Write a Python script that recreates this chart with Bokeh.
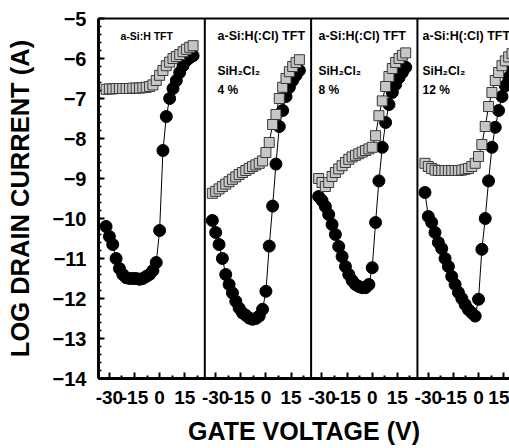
from bokeh.plotting import figure
from bokeh.models import FixedTicker, SingleIntervalTicker, Span, LinearAxis, Range1d, Label
from bokeh.embed import file_html
from bokeh.resources import INLINE

# ---------------- data ----------------
gate_v = [-32, -30, -28, -26, -24, -22, -20, -18, -16, -14, -12, -10, -8, -6,
          -4, -2, 0, 2, 4, 6, 8, 10, 12, 14, 16, 18, 20]

# circles (filled) per panel
p1_circle = [-10.2, -10.45, -10.65, -11.0, -11.25, -11.4, -11.48, -11.5, -11.5, -11.5,
             -11.52, -11.5, -11.45, -11.4, -11.3, -11.1, -10.3, -8.3, -7.45, -7.0,
             -6.75, -6.55, -6.35, -6.18, -6.05, -5.98, -5.93]
p2_circle = [-10.05, -10.35, -10.65, -11.0, -11.4, -11.65, -11.86, -12.07, -12.24, -12.36,
             -12.42, -12.49, -12.52, -12.5, -12.44, -12.27, -11.82, -10.69, -9.69, -8.64,
             -7.7, -7.3, -6.95, -6.72, -6.55, -6.42, -6.3]
p3_circle = [-9.45, -9.55, -9.7, -9.9, -10.15, -10.4, -10.7, -10.95, -11.2, -11.4,
             -11.55, -11.65, -11.7, -11.73, -11.73, -11.65, -11.23, -10.1, -9.06, -8.22,
             -7.6, -7.15, -6.85, -6.65, -6.48, -6.35, -6.22]
p4_circle = [-9.35, -9.95, -10.1, -10.35, -10.6, -10.75, -11.0, -11.2, -11.45, -11.65,
             -11.85, -12.0, -12.15, -12.28, -12.36, -12.44, -12.02, -10.77, -10.0, -9.06,
             -8.22, -7.72, -7.3, -6.95, -6.68, -6.47, -6.26]

# squares (gray) per panel
p1_square = [-6.77, -6.76, -6.76, -6.75, -6.75, -6.75, -6.75, -6.75, -6.74, -6.74,
             -6.74, -6.73, -6.72, -6.7, -6.66, -6.55, -6.42, -6.3, -6.18, -6.09,
             -6.0, -5.95, -5.9, -5.83, -5.77, -5.72, -5.68]
p2_square = [-9.37, -9.32, -9.26, -9.2, -9.14, -9.08, -9.02, -8.96, -8.9, -8.85,
             -8.8, -8.75, -8.7, -8.66, -8.62, -8.56, -8.35, -8.1, -7.65, -7.4,
             -7.0, -6.72, -6.5, -6.33, -6.2, -6.1, -6.03]
p3_square = [-9.0, -9.1, -9.2, -9.1, -8.95, -8.85, -8.76, -8.68, -8.6, -8.52,
             -8.46, -8.42, -8.38, -8.34, -8.3, -8.26, -8.22, -7.93, -7.43, -7.06,
             -6.7, -6.45, -6.25, -6.1, -6.0, -5.92, -5.86]
p4_square = [-8.62, -8.7, -8.75, -8.79, -8.8, -8.8, -8.8, -8.8, -8.8, -8.8,
             -8.8, -8.79, -8.77, -8.75, -8.7, -8.62, -8.45, -8.15, -7.7, -7.2,
             -6.85, -6.55, -6.35, -6.18, -6.06, -5.96, -5.88]

circles = [p1_circle, p2_circle, p3_circle, p4_circle]
squares = [p1_square, p2_square, p3_square, p4_square]

panel_titles = ["a-Si:H TFT", "a-Si:H(:Cl) TFT", "a-Si:H(:Cl) TFT", "a-Si:H(:Cl) TFT"]
panel_gas = ["", "SiH\u2082Cl\u2082", "SiH\u2082Cl\u2082", "SiH\u2082Cl\u2082"]
panel_conc = ["", "4 %", "8 %", "12 %"]

x_tick_values = [-30, -15, 0, 15]
x_tick_labels = ["-30", "-15", "0", "15"]
x_minor_values = [-22.5, -7.5, 7.5, 22.5]
x_title = "GATE VOLTAGE (V)"
y_title = "LOG DRAIN CURRENT (A)"

# ---------------- layout ----------------
LO = -36.5          # left edge of each panel (V)
SPAN = 63.5         # panel width (V)
VISIBLE = 245.5     # visible width of the 4-panel strip (V)
FONT = "Liberation Sans"

p = figure(width=509, height=448, output_backend="svg", toolbar_location=None,
           x_range=Range1d(LO, LO + VISIBLE), y_range=Range1d(-14, -5),
           min_border_left=98, min_border_right=0, min_border_top=18,
           min_border_bottom=70, background_fill_color="white",
           border_fill_color="white", outline_line_color=None)
p.grid.visible = False

# x axis
ticks, overrides, minors = [], {}, []
for k in range(4):
    off = k * SPAN
    for t, lab in zip(x_tick_values, x_tick_labels):
        ticks.append(t + off)
        overrides[t + off] = lab
    for m in x_minor_values:
        minors.append(m + off)
xa = p.xaxis[0]
xa.ticker = FixedTicker(ticks=ticks, minor_ticks=minors)
xa.major_label_overrides = overrides
xa.axis_label = x_title
xa.axis_line_width = 3
xa.major_tick_in = 6
xa.major_tick_out = 0
xa.minor_tick_in = 3
xa.minor_tick_out = 0
xa.major_tick_line_width = 2
xa.minor_tick_line_width = 2
xa.major_label_standoff = 12
xa.axis_label_standoff = 10
xa.major_label_text_font = FONT
xa.major_label_text_font_style = "bold"
xa.major_label_text_font_size = "19px"
xa.major_label_text_color = "black"
xa.axis_label_text_font = FONT
xa.axis_label_text_font_style = "bold"
xa.axis_label_text_font_size = "25px"
xa.axis_label_text_color = "black"

# y axis
ya = p.yaxis[0]
ya.ticker = SingleIntervalTicker(interval=1, num_minor_ticks=5)
ya.axis_label = y_title
ya.axis_line_width = 3
ya.major_tick_in = 6
ya.major_tick_out = 0
ya.minor_tick_in = 3
ya.minor_tick_out = 0
ya.major_tick_line_width = 2
ya.minor_tick_line_width = 1.5
ya.major_label_standoff = 12
ya.axis_label_standoff = 16
ya.major_label_text_font = FONT
ya.major_label_text_font_style = "bold"
ya.major_label_text_font_size = "20px"
ya.major_label_text_color = "black"
ya.axis_label_text_font = FONT
ya.axis_label_text_font_style = "bold"
ya.axis_label_text_font_size = "25.5px"
ya.axis_label_text_color = "black"

# top border line
top = LinearAxis(ticker=FixedTicker(ticks=[]), axis_line_width=2,
                 major_tick_in=0, major_tick_out=0, minor_tick_in=0, minor_tick_out=0)
p.add_layout(top, "above")

# panel separators
for k in range(1, 4):
    p.add_layout(Span(location=LO + k * SPAN, dimension="height",
                      line_color="black", line_width=2))

# data
for k in range(4):
    xs = [v + k * SPAN for v in gate_v]
    p.line(xs, circles[k], line_color="black", line_width=1)
    p.scatter(xs, circles[k], marker="circle", size=12,
              fill_color="black", line_color="black", line_width=1)
for k in range(4):
    xs = [v + k * SPAN for v in gate_v]
    p.line(xs, squares[k], line_color="black", line_width=1)
    p.scatter(xs, squares[k], marker="square", size=10,
              fill_color="#c6c6c6", line_color="#3a3a3a", line_width=1)

# panel annotations
title_x = [-23.4, -28.9, -32.1, -33.4]
title_size = ["10.5px", "12.5px", "12.5px", "12.5px"]
for k in range(4):
    off = k * SPAN
    p.add_layout(Label(x=title_x[k] + off, y=-5.43, text=panel_titles[k],
                       text_font=FONT, text_font_style="bold",
                       text_font_size=title_size[k], text_baseline="middle",
                       text_align="left", text_color="black"))
    if panel_gas[k]:
        p.add_layout(Label(x=title_x[k] + off, y=-6.3, text=panel_gas[k],
                           text_font=FONT, text_font_style="bold",
                           text_font_size="12px", text_baseline="middle",
                           text_align="left", text_color="black"))
        p.add_layout(Label(x=title_x[k] + off, y=-6.78, text=panel_conc[k],
                           text_font=FONT, text_font_style="bold",
                           text_font_size="12px", text_baseline="middle",
                           text_align="left", text_color="black"))

open("out.html", "w").write(file_html(p, INLINE))
